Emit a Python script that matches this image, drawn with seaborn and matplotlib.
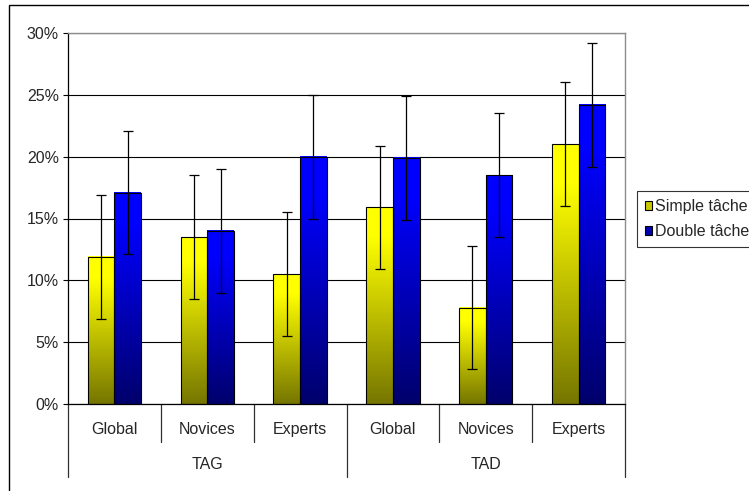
import numpy as np
import pandas as pd
import matplotlib
matplotlib.use("Agg")
import matplotlib.pyplot as plt
from matplotlib.patches import Patch, Rectangle
from matplotlib.ticker import FuncFormatter
import seaborn as sns

# ---- data ----
groups = ["TAG", "TAG", "TAG", "TAD", "TAD", "TAD"]
categories = ["Global", "Novices", "Experts", "Global", "Novices", "Experts"]
series = ["Simple tâche", "Double tâche"]
simple_vals = [11.9, 13.5, 10.5, 15.9, 7.8, 21.0]
double_vals = [17.1, 14.0, 20.0, 19.9, 18.5, 24.2]
simple_err = [5.0, 5.0, 5.0, 5.0, 5.0, 5.0]
double_err = [5.0, 5.0, 5.0, 5.0, 5.0, 5.0]
group_names = ["TAG", "TAD"]
yticks = [0, 5, 10, 15, 20, 25, 30]

keys = [f"{g}-{c}" for g, c in zip(groups, categories)]
df = pd.DataFrame({
    "key": keys * 2,
    "series": [series[0]] * 6 + [series[1]] * 6,
    "value": simple_vals + double_vals,
})
errs = {series[0]: simple_err, series[1]: double_err}

# ---- style ----
sns.set_style("white")
plt.rcParams["font.family"] = ["Liberation Sans", "DejaVu Sans"]
FS = 11.5

fig = plt.figure(figsize=(7.49, 4.91), dpi=100)
ax = fig.add_axes([68 / 749, 1 - 404 / 491, (625 - 68) / 749, (404 - 33) / 491])

sns.barplot(data=df, x="key", y="value", hue="series", order=keys,
            hue_order=series, palette=["#ffff00", "#0000ff"], width=0.575,
            edgecolor="black", linewidth=0.8, errorbar=None, legend=False,
            ax=ax)

top_cols = {series[0]: np.array([1.0, 1.0, 0.0]), series[1]: np.array([0.0, 0.0, 1.0])}
bot_cols = {series[0]: np.array([0.46, 0.46, 0.0]), series[1]: np.array([0.0, 0.0, 0.42])}

for s, cont in zip(series, ax.containers):
    xs, hs = [], []
    for bar in cont:
        x0, w, h = bar.get_x(), bar.get_width(), bar.get_height()
        t = np.linspace(0, 1, 256)
        t = np.clip(t / 0.85, 0, 1)
        grad = bot_cols[s][None, :] * (1 - t[:, None]) + top_cols[s][None, :] * t[:, None]
        ax.imshow(grad[:, None, :], extent=[x0, x0 + w, 0, h], origin="lower",
                  aspect="auto", zorder=1.5, interpolation="bilinear")
        bar.set_facecolor("none")
        bar.set_zorder(2)
        xs.append(x0 + w / 2)
        hs.append(h)
    ax.errorbar(xs, hs, yerr=errs[s], fmt="none", ecolor="black",
                elinewidth=0.9, capsize=3.6, capthick=0.9, zorder=3)

ax.set_xlim(-0.5, 5.5)
ax.set_ylim(0, 30)
ax.set_yticks(yticks)
ax.yaxis.set_major_formatter(FuncFormatter(lambda v, p: f"{v:.0f}%"))
ax.tick_params(axis="y", direction="out", length=3.6, width=0.8, color="black",
               pad=3, labelsize=FS, left=True)
ax.tick_params(axis="x", length=0, labelbottom=False)
ax.set_xlabel("")
ax.set_ylabel("")
ax.set_axisbelow(True)
ax.yaxis.grid(True, color="black", linewidth=0.8)

for side in ["left", "bottom"]:
    ax.spines[side].set_color("black")
    ax.spines[side].set_linewidth(0.9)
for side in ["top", "right"]:
    ax.spines[side].set_color("#8c8c8c")
    ax.spines[side].set_linewidth(1.0)

# two-level category axis
trans = ax.get_xaxis_transform()
for i, c in enumerate(categories):
    ax.text(i, -0.0674, c, transform=trans, ha="center", va="center", fontsize=FS)
for gi, g in enumerate(group_names):
    ax.text(gi * 3 + 1, -0.164, g, transform=trans, ha="center", va="center", fontsize=FS)
for b in np.arange(-0.5, 6.0, 1.0):
    long = (b in (-0.5, 2.5, 5.5))
    ax.plot([b, b], [0, -0.196 if long else -0.1016], transform=trans,
            color="#303030", lw=0.9, clip_on=False)

# legend
handles = [Patch(facecolor="#c8c800", edgecolor="black", linewidth=0.8),
           Patch(facecolor="#0000b0", edgecolor="black", linewidth=0.8)]
leg = fig.legend(handles, series, loc="upper left",
                 bbox_to_anchor=(637 / 749, 1 - 191 / 491), fontsize=FS,
                 frameon=True, fancybox=False, edgecolor="black",
                 handlelength=0.45, handleheight=0.45, handletextpad=0.15,
                 borderpad=0.5, labelspacing=0.65, borderaxespad=0)
leg.get_frame().set_linewidth(0.8)

# outer chart border
fig.add_artist(Rectangle((9 / 749, -0.5), 2.0, 0.5 + 1 - 5 / 491, transform=fig.transFigure,
                         fill=False, edgecolor="black", linewidth=1.0, clip_on=False))

fig.savefig("out.png", dpi=100)
